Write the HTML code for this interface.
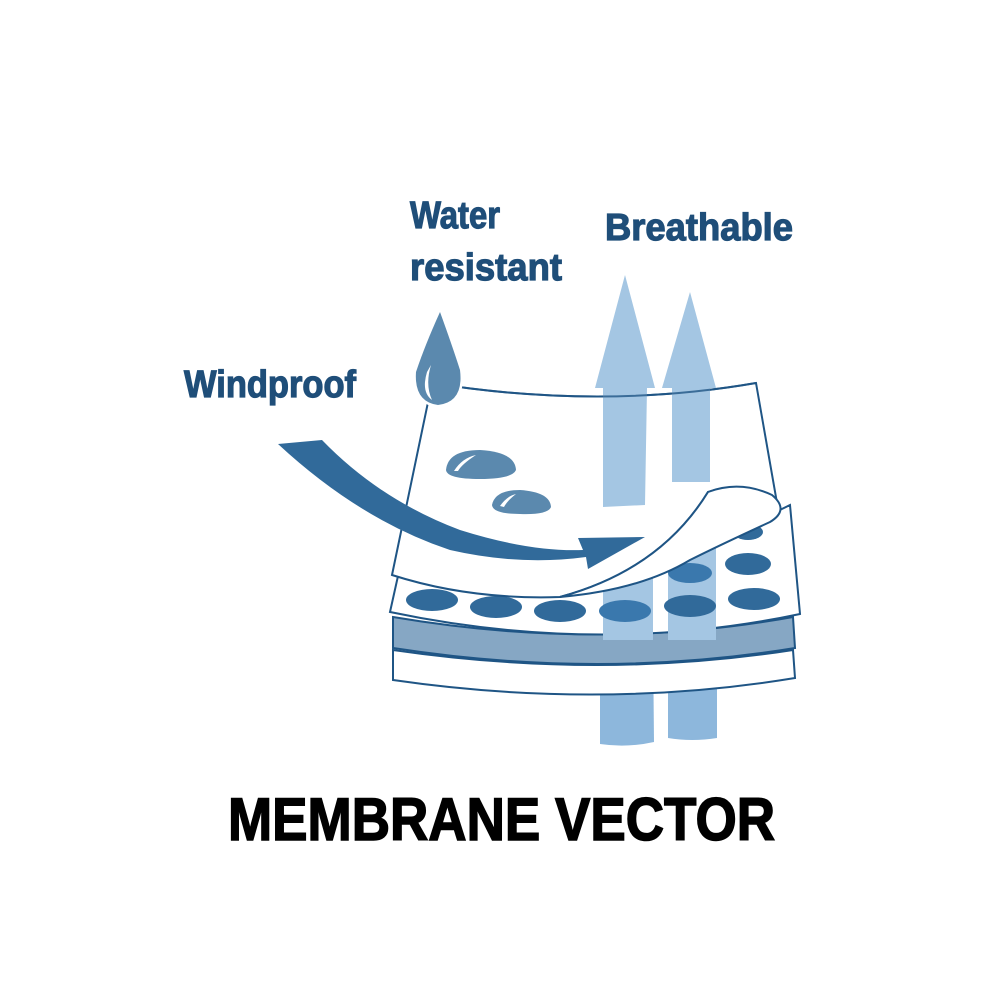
<!DOCTYPE html>
<html><head><style>
html,body{margin:0;padding:0;background:#fff;}
svg{display:block;}
text{font-family:"Liberation Sans Narrow","Liberation Sans",sans-serif;font-weight:bold;}
</style></head><body>
<svg width="1000" height="1000" viewBox="0 0 1000 1000" xmlns="http://www.w3.org/2000/svg">
<rect width="1000" height="1000" fill="#fff"/>
<!-- lower arrow tails -->
<path d="M600 640 L653 640 L654 742 Q627 748 600 744 Z" fill="#8db7dc"/>
<path d="M668 640 L717 640 L717 738 Q692 742 668 738 Z" fill="#8db7dc"/>
<!-- bottom white layer -->
<path d="M393 650 Q600 680 793 650 L795 678 Q600 710 393 680 Z" fill="#fff" stroke="#1f5585" stroke-width="2"/>
<!-- band -->
<path d="M393 617 Q600 652 793 617 L795 648 Q600 680 393 648 Z" fill="#86a7c4" stroke="#1f5585" stroke-width="2"/>
<!-- dots layer -->
<path d="M398 576 Q600 600 790 505 L800 614 Q600 656 390 612 Z" fill="#fff" stroke="#1f5585" stroke-width="2"/>
<rect x="603" y="540" width="50" height="100" fill="#a4c6e3"/>
<rect x="668" y="540" width="48" height="100" fill="#a4c6e3"/>
<g fill="#316a9a">
<ellipse cx="432" cy="600" rx="26" ry="11"/>
<ellipse cx="496" cy="607" rx="26" ry="11"/>
<ellipse cx="560" cy="611" rx="26" ry="11"/>
<ellipse cx="625" cy="611" rx="26" ry="11" fill="#3a78ad"/>
<ellipse cx="690" cy="606" rx="26" ry="11"/>
<ellipse cx="754" cy="599" rx="26" ry="11"/>
<ellipse cx="748" cy="564" rx="23" ry="11"/>
<ellipse cx="690" cy="573" rx="22" ry="10" fill="#3a78ad"/>
<ellipse cx="748" cy="532" rx="15" ry="8"/>
</g>
<!-- top sheet -->
<path d="M432 383 Q600 410 756 383 L777 503 Q740 480 708 492 Q660 570 560 597 Q470 600 392 575 Z" fill="#fff" stroke="#1f5585" stroke-width="2"/>
<!-- upward arrows -->
<path d="M603 507 L603 388 L595 388 L625 275 L655 388 L647 388 L645 505 Z" fill="#a4c6e3"/>
<path d="M672 482 L672 388 L662 388 L690 292 L716 388 L710 388 L710 482 Z" fill="#a4c6e3"/>
<path d="M432 383 Q600 410 756 383" fill="none" stroke="#1f5585" stroke-width="2" opacity="0.8"/>
<!-- curl -->
<path d="M708 492 Q740 480 772 495 Q790 510 770 522 Q720 545 690 560 Q640 590 560 597 Q660 570 708 492 Z" fill="#fff" stroke="#1f5585" stroke-width="2"/>
<!-- droplets -->
<path d="M440 312 Q452 345 460 370 Q464 402 438 405 Q414 402 416 372 Q425 345 440 312 Z" fill="#5b89ae" stroke="#fff" stroke-width="5" paint-order="stroke"/>
<path d="M427 372 Q421 392 432 400 Q425 385 431 365 Z" fill="#fff"/>
<path d="M446 470 Q448 450 480 450 Q515 452 516 470 Q512 479 480 479 Q447 479 446 470 Z" fill="#5b89ae"/>
<path d="M454 471 Q462 458 476 455 Q462 464 458 471 Z" fill="#fff"/>
<path d="M492 505 Q495 490 520 490 Q550 492 551 507 Q548 515 520 514 Q493 514 492 505 Z" fill="#5b89ae"/>
<path d="M500 506 Q507 496 516 494 Q507 501 504 507 Z" fill="#fff"/>
<!-- wind arrow -->
<path d="M278 444 L322 440 Q380 500 460 530 Q530 552 583 550 L578 538 L645 537 L588 569 L586 557 Q520 566 450 550 Q360 520 278 444 Z" fill="#316a9a"/>
<!-- texts -->
<g fill="#1f4e79" stroke="#1f4e79" stroke-width="1.2">
<text x="410" y="228" font-size="38" textLength="90" lengthAdjust="spacingAndGlyphs">Water</text>
<text x="410" y="280" font-size="38" textLength="152" lengthAdjust="spacingAndGlyphs">resistant</text>
<text x="605" y="240" font-size="38" textLength="188" lengthAdjust="spacingAndGlyphs">Breathable</text>
<text x="184" y="397" font-size="38" textLength="172" lengthAdjust="spacingAndGlyphs">Windproof</text>
</g>
<text x="228" y="840" font-size="60" fill="#000" stroke="#000" stroke-width="1.5" textLength="547" lengthAdjust="spacingAndGlyphs">MEMBRANE VECTOR</text>
</svg>
</body></html>
